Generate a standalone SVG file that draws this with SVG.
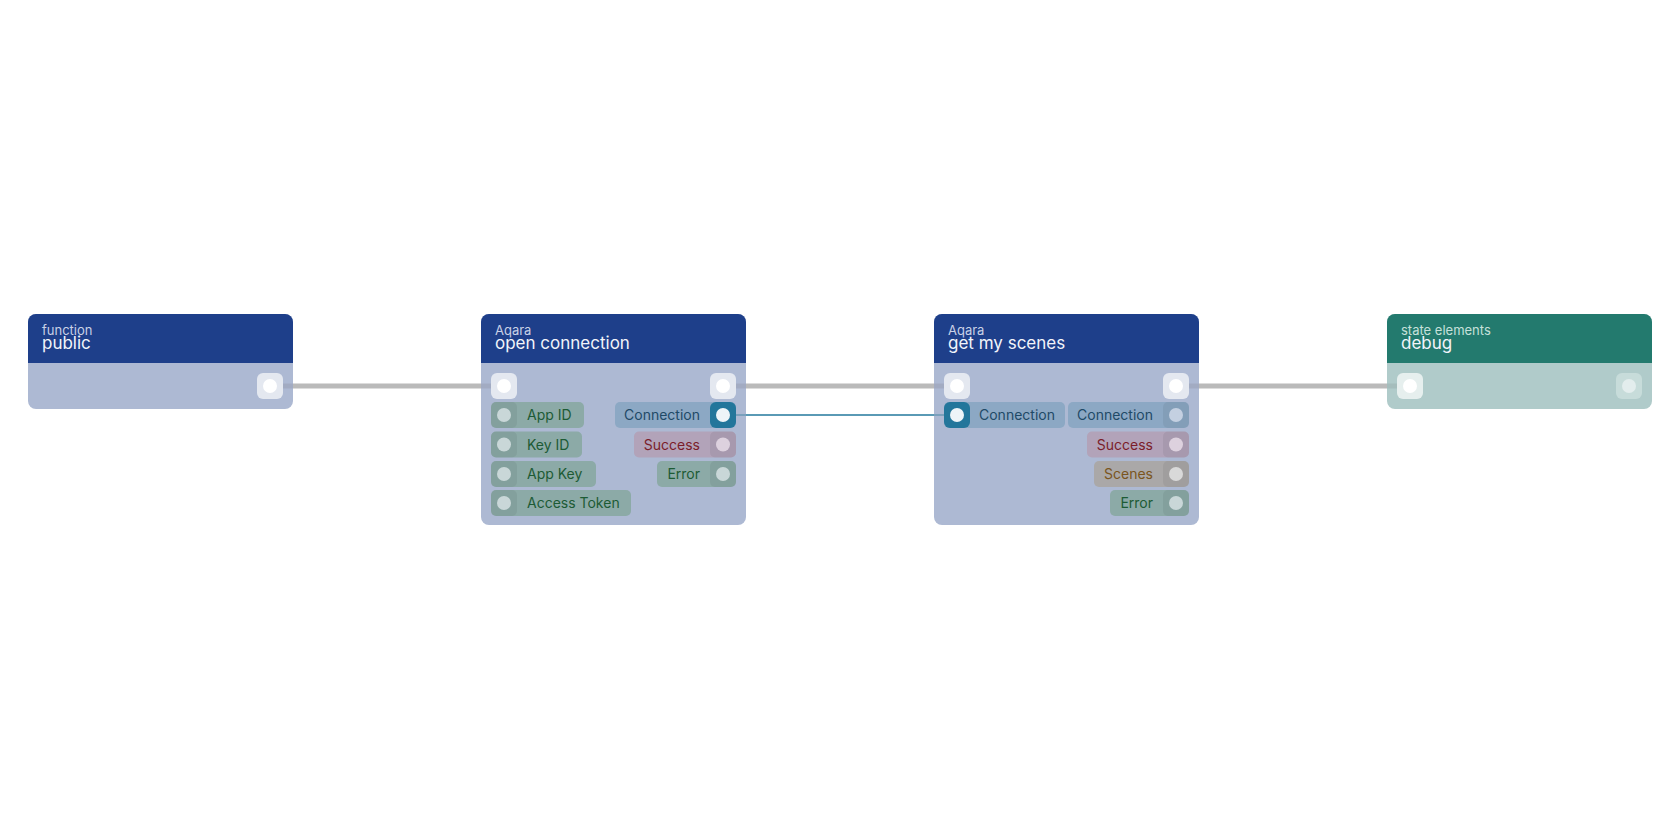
<svg xmlns="http://www.w3.org/2000/svg" width="1680" height="840" viewBox="0 0 1680 840">
<style>
text{font-family:Inter,"Noto Sans","Liberation Sans",sans-serif}
.sub{font-size:13px;fill:#c9d1e6}
.ttl{font-size:17px;fill:#f2f4fa}
.subt{font-size:13px;fill:#c6e0da}
.lbl{font-size:14px}
.bodyB{fill:#adb9d3}
.hdrB{fill:#1e3f8a}
.bodyT{fill:#b0cbca}
.hdrT{fill:#237a6e}
.exec{fill:#e4e8f0}
.execT{fill:#e6efee}
.execTo{fill:#c7dcda}
.dot{fill:#ffffff}
.dotT{fill:#e3eded}
.pg{fill:#8caaa7}
.pc{fill:#8ca8c4}
.ps{fill:#b2a3b9}
.pn{fill:#aaa8a8}
.sq{fill:#000;fill-opacity:0.06}
.cg{fill:#c9d7d8}
.cc{fill:#c4d0e1}
.cs{fill:#ddd1de}
.cn{fill:#d9d9d9}
.tg{fill:#1d5b35}
.tc{fill:#1f4a67}
.ts{fill:#7b1d2a}
.tn{fill:#7a5520}
.wire{stroke:#bababa;stroke-width:5;fill:none}
.stubB{stroke:#a2abc2;stroke-width:5}
.stubT{stroke:#a5bdbc;stroke-width:5}
.cwire{stroke:#5a9ab5;stroke-width:2;fill:none}
</style>
<rect width="1680" height="840" fill="#ffffff"/>
<g id="connectors">
<line class="wire" x1="270" y1="386" x2="504" y2="386"/>
<line class="wire" x1="723" y1="386" x2="957" y2="386"/>
<line class="wire" x1="1176" y1="386" x2="1410" y2="386"/>
<line class="cwire" x1="723" y1="415" x2="957" y2="415"/>
</g>
<g id="node-public">
<rect class="bodyB" x="28" y="314" width="265" height="95" rx="8"/>
<path class="hdrB" d="M28 363 V322 a8 8 0 0 1 8 -8 H285 a8 8 0 0 1 8 8 V363 Z"/>
<text class="sub" x="42" y="335">function</text>
<text class="ttl" x="42" y="349">public</text>
<line class="stubB" x1="283" y1="386" x2="293" y2="386"/>
<rect class="exec" x="257" y="373" width="26" height="26" rx="6"/>
<circle class="dot" cx="270" cy="386" r="7"/>
</g>
<g id="node-open-connection">
<rect class="bodyB" x="481" y="314" width="265" height="211" rx="8"/>
<path class="hdrB" d="M481 363 V322 a8 8 0 0 1 8 -8 H738 a8 8 0 0 1 8 8 V363 Z"/>
<text class="sub" x="495" y="335">Aqara</text>
<text class="ttl" x="495" y="349">open connection</text>
<line class="stubB" x1="481" y1="386" x2="491" y2="386"/>
<line class="stubB" x1="736" y1="386" x2="746" y2="386"/>
<line stroke="#7aa0bc" stroke-width="2" x1="736" y1="415" x2="746" y2="415"/>
<rect class="exec" x="491" y="373" width="26" height="26" rx="6"/>
<circle class="dot" cx="504" cy="386" r="7"/>
<rect class="exec" x="710" y="373" width="26" height="26" rx="6"/>
<circle class="dot" cx="723" cy="386" r="7"/>
<rect class="pg" x="491" y="402" width="93" height="26" rx="5"/>
<rect class="sq" x="491" y="402" width="26" height="26" rx="5"/>
<circle class="cg" cx="504" cy="415" r="7"/>
<text class="lbl tg" x="527" y="420">App ID</text>
<rect class="pg" x="491" y="431.5" width="91" height="26" rx="5"/>
<rect class="sq" x="491" y="431.5" width="26" height="26" rx="5"/>
<circle class="cg" cx="504" cy="444.5" r="7"/>
<text class="lbl tg" x="527" y="449.5">Key ID</text>
<rect class="pg" x="491" y="461" width="105" height="26" rx="5"/>
<rect class="sq" x="491" y="461" width="26" height="26" rx="5"/>
<circle class="cg" cx="504" cy="474" r="7"/>
<text class="lbl tg" x="527" y="479">App Key</text>
<rect class="pg" x="491" y="490" width="140" height="26" rx="5"/>
<rect class="sq" x="491" y="490" width="26" height="26" rx="5"/>
<circle class="cg" cx="504" cy="503" r="7"/>
<text class="lbl tg" x="527" y="508">Access Token</text>
<rect class="pc" x="615" y="402" width="121" height="26" rx="5"/>
<rect fill="#23769b" x="710" y="402" width="26" height="26" rx="6"/>
<circle fill="#eef4f8" cx="723" cy="415" r="7"/>
<text class="lbl tc" x="700" y="420" text-anchor="end">Connection</text>
<rect class="ps" x="634" y="431.5" width="102" height="26" rx="5"/>
<rect class="sq" x="710" y="431.5" width="26" height="26" rx="5"/>
<circle class="cs" cx="723" cy="444.5" r="7"/>
<text class="lbl ts" x="700" y="449.5" text-anchor="end">Success</text>
<rect class="pg" x="657" y="461" width="79" height="26" rx="5"/>
<rect class="sq" x="710" y="461" width="26" height="26" rx="5"/>
<circle class="cg" cx="723" cy="474" r="7"/>
<text class="lbl tg" x="700" y="479" text-anchor="end">Error</text>
</g>
<g id="node-get-my-scenes">
<rect class="bodyB" x="934" y="314" width="265" height="211" rx="8"/>
<path class="hdrB" d="M934 363 V322 a8 8 0 0 1 8 -8 H1191 a8 8 0 0 1 8 8 V363 Z"/>
<text class="sub" x="948" y="335">Aqara</text>
<text class="ttl" x="948" y="349">get my scenes</text>
<line class="stubB" x1="934" y1="386" x2="944" y2="386"/>
<line class="stubB" x1="1189" y1="386" x2="1199" y2="386"/>
<line stroke="#7aa0bc" stroke-width="2" x1="934" y1="415" x2="944" y2="415"/>
<rect class="exec" x="944" y="373" width="26" height="26" rx="6"/>
<circle class="dot" cx="957" cy="386" r="7"/>
<rect class="exec" x="1163" y="373" width="26" height="26" rx="6"/>
<circle class="dot" cx="1176" cy="386" r="7"/>
<rect class="pc" x="944" y="402" width="121" height="26" rx="5"/>
<rect fill="#23769b" x="944" y="402" width="26" height="26" rx="6"/>
<circle fill="#eef4f8" cx="957" cy="415" r="7"/>
<text class="lbl tc" x="979" y="420">Connection</text>
<rect class="pc" x="1068" y="402" width="121" height="26" rx="5"/>
<rect class="sq" x="1163" y="402" width="26" height="26" rx="5"/>
<circle class="cc" cx="1176" cy="415" r="7"/>
<text class="lbl tc" x="1153" y="420" text-anchor="end">Connection</text>
<rect class="ps" x="1087" y="431.5" width="102" height="26" rx="5"/>
<rect class="sq" x="1163" y="431.5" width="26" height="26" rx="5"/>
<circle class="cs" cx="1176" cy="444.5" r="7"/>
<text class="lbl ts" x="1153" y="449.5" text-anchor="end">Success</text>
<rect class="pn" x="1094" y="461" width="95" height="26" rx="5"/>
<rect class="sq" x="1163" y="461" width="26" height="26" rx="5"/>
<circle class="cn" cx="1176" cy="474" r="7"/>
<text class="lbl tn" x="1153" y="479" text-anchor="end">Scenes</text>
<rect class="pg" x="1110" y="490" width="79" height="26" rx="5"/>
<rect class="sq" x="1163" y="490" width="26" height="26" rx="5"/>
<circle class="cg" cx="1176" cy="503" r="7"/>
<text class="lbl tg" x="1153" y="508" text-anchor="end">Error</text>
</g>
<g id="node-debug">
<rect class="bodyT" x="1387" y="314" width="265" height="95" rx="8"/>
<path class="hdrT" d="M1387 363 V322 a8 8 0 0 1 8 -8 H1644 a8 8 0 0 1 8 8 V363 Z"/>
<text class="subt" x="1401" y="335">state elements</text>
<text class="ttl" x="1401" y="349">debug</text>
<line class="stubT" x1="1387" y1="386" x2="1397" y2="386"/>
<rect class="execT" x="1397" y="373" width="26" height="26" rx="6"/>
<circle class="dot" cx="1410" cy="386" r="7"/>
<rect class="execTo" x="1616" y="373" width="26" height="26" rx="6"/>
<circle class="dotT" cx="1629" cy="386" r="7"/>
</g>
</svg>
